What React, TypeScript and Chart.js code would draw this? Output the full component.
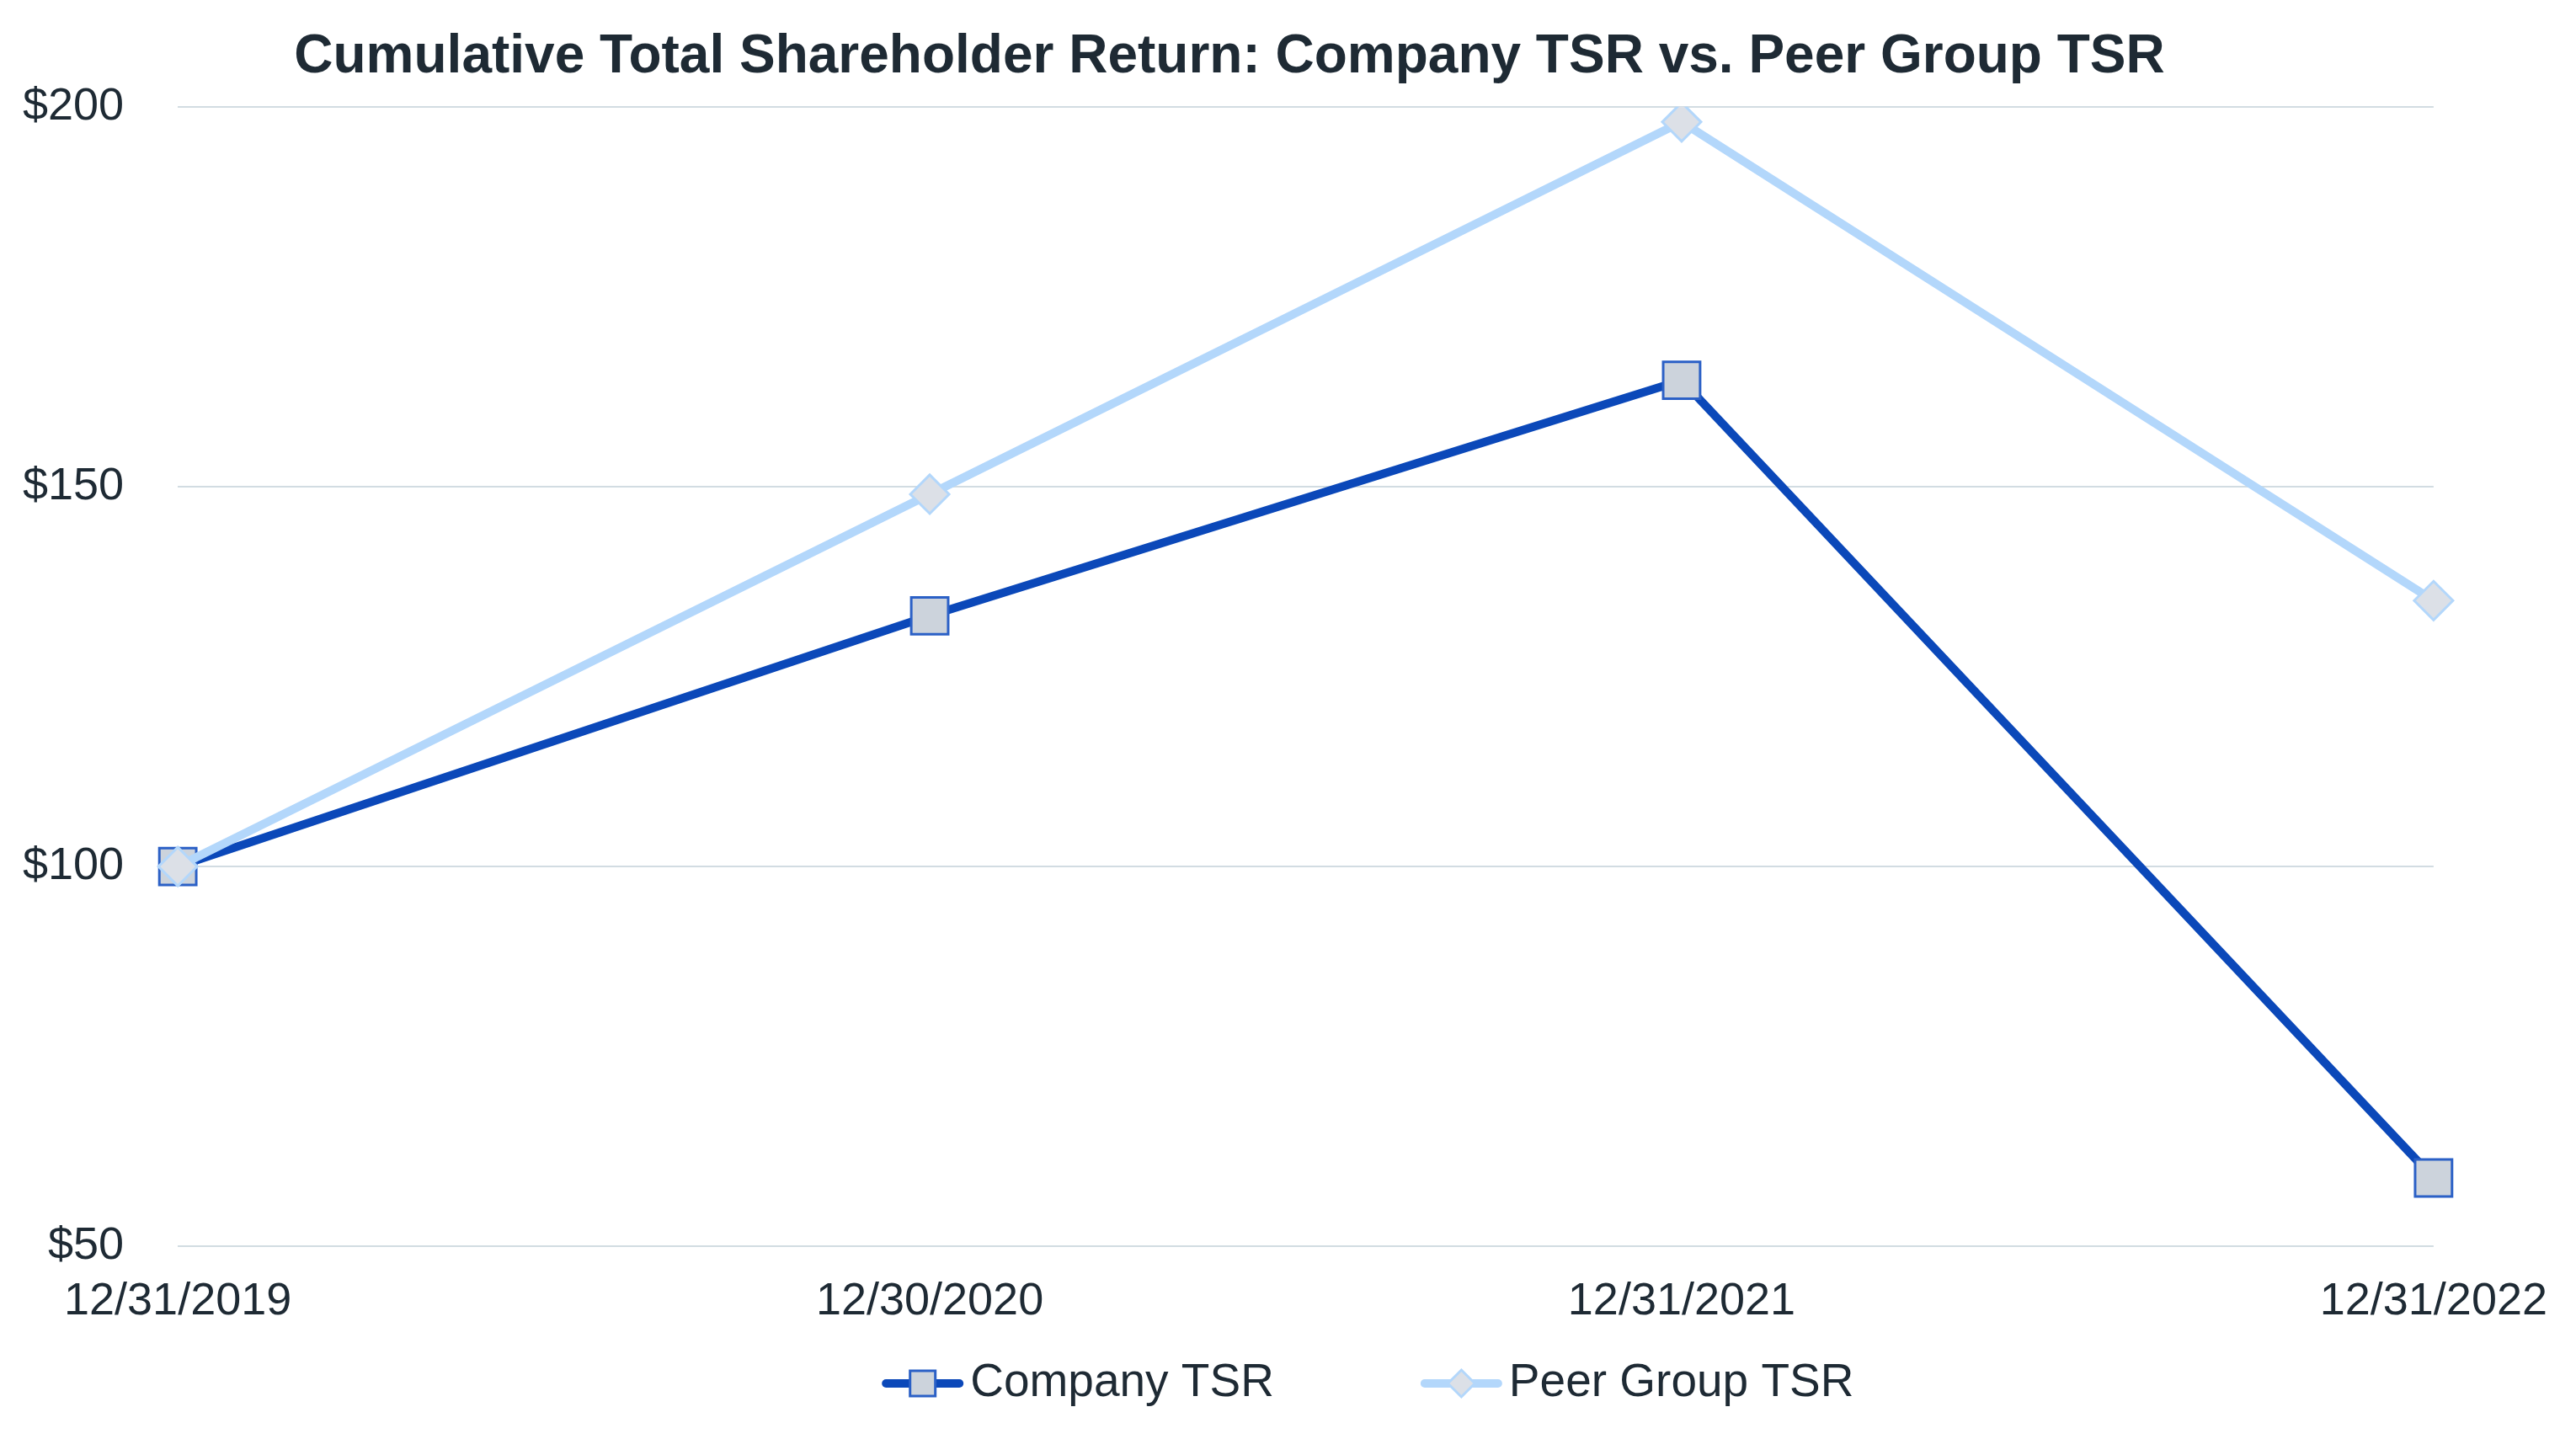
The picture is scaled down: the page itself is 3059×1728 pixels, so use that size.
import React, { useEffect, useRef } from "react";
import { Chart, registerables } from "chart.js";

Chart.register(...registerables);

const categories = ["12/31/2019", "12/30/2020", "12/31/2021", "12/31/2022"];
const companyTSR = [100, 133, 164, 59];
const peerTSR = [100, 149, 198, 135];
const yTicks = [50, 100, 150, 200];
const seriesNames = ["Company TSR", "Peer Group TSR"];
const titleText = "Cumulative Total Shareholder Return: Company TSR vs. Peer Group TSR";

const FONT = "'Liberation Sans', Arial, Helvetica, sans-serif";
const TEXT_COLOR = "#1e2a34";
const COMPANY_LINE = "#0b48b9";
const COMPANY_BORDER = "#2b60c6";
const COMPANY_FILL = "#ccd3dc";
const PEER_LINE = "#b3d7fb";
const PEER_FILL = "#dce0e7";
const GRID = "#d2dce2";

const TICK_SIZE = 54;
const LEGEND_SIZE = 55;
const Y_PAD = 64;
const X_PAD = 34;

const legendPlugin = {
  id: "customLegend",
  afterDraw(chart: any) {
    const ctx = chart.ctx as CanvasRenderingContext2D;
    ctx.save();
    ctx.font = `${LEGEND_SIZE}px ${FONT}`;
    ctx.textBaseline = "middle";
    ctx.textAlign = "left";
    const y = chart.height - 85;
    const symW = 97;
    const w1 = ctx.measureText(seriesNames[0]).width;
    const w2 = ctx.measureText(seriesNames[1]).width;
    const gapText = 8;
    const gapItems = 174;
    const total = symW + gapText + w1 + gapItems + symW + gapText + w2;
    let x = chart.width * 0.531 - total / 2;

    // item 1
    ctx.lineCap = "round";
    ctx.strokeStyle = COMPANY_LINE;
    ctx.lineWidth = 10;
    ctx.beginPath();
    ctx.moveTo(x + 5, y);
    ctx.lineTo(x + symW - 5, y);
    ctx.stroke();
    const cx1 = x + symW / 2;
    ctx.lineCap = "butt";
    ctx.fillStyle = COMPANY_FILL;
    ctx.strokeStyle = COMPANY_BORDER;
    ctx.lineWidth = 3;
    ctx.beginPath();
    ctx.rect(cx1 - 15, y - 15, 30, 30);
    ctx.fill();
    ctx.stroke();
    ctx.fillStyle = TEXT_COLOR;
    ctx.fillText(seriesNames[0], x + symW + gapText, y);
    x += symW + gapText + w1 + gapItems;

    // item 2
    ctx.lineCap = "round";
    ctx.strokeStyle = PEER_LINE;
    ctx.lineWidth = 10;
    ctx.beginPath();
    ctx.moveTo(x + 5, y);
    ctx.lineTo(x + symW - 5, y);
    ctx.stroke();
    const cx2 = x + symW / 2;
    ctx.lineCap = "butt";
    ctx.fillStyle = PEER_FILL;
    ctx.strokeStyle = PEER_LINE;
    ctx.lineWidth = 3;
    ctx.beginPath();
    const r = 16;
    ctx.moveTo(cx2, y - r);
    ctx.lineTo(cx2 + r, y);
    ctx.lineTo(cx2, y + r);
    ctx.lineTo(cx2 - r, y);
    ctx.closePath();
    ctx.fill();
    ctx.stroke();
    ctx.fillStyle = TEXT_COLOR;
    ctx.fillText(seriesNames[1], x + symW + gapText, y);
    ctx.restore();
  },
};

export default function App() {
  const canvasRef = useRef<HTMLCanvasElement | null>(null);

  useEffect(() => {
    if (!canvasRef.current) return;
    const chart = new Chart(canvasRef.current, {
      type: "line",
      data: {
        labels: categories,
        datasets: [
          {
            label: seriesNames[0],
            data: companyTSR,
            borderColor: COMPANY_LINE,
            borderWidth: 10,
            backgroundColor: COMPANY_FILL,
            pointStyle: "rect",
            pointRadius: 31,
            pointBackgroundColor: COMPANY_FILL,
            pointBorderColor: COMPANY_BORDER,
            pointBorderWidth: 3,
            tension: 0,
            order: 1,
          },
          {
            label: seriesNames[1],
            data: peerTSR,
            borderColor: PEER_LINE,
            borderWidth: 10,
            backgroundColor: PEER_FILL,
            pointStyle: "rectRot",
            pointRadius: 23,
            pointBackgroundColor: PEER_FILL,
            pointBorderColor: PEER_LINE,
            pointBorderWidth: 3,
            tension: 0,
            order: 0,
          },
        ],
      },
      options: {
        animation: false,
        responsive: false,
        maintainAspectRatio: false,
        layout: { padding: { left: 27, right: 166, top: 0, bottom: 149 } },
        plugins: {
          legend: { display: false },
          tooltip: { enabled: false },
          title: {
            display: true,
            text: titleText,
            color: TEXT_COLOR,
            font: { family: FONT, size: 64, weight: "bold", lineHeight: 1.2 },
            padding: { top: 30, bottom: 20 },
          },
        },
        scales: {
          x: {
            offset: false,
            grid: { display: false, drawTicks: false },
            border: { display: false },
            afterFit: (axis: any) => {
              axis.height -= X_PAD;
            },
            ticks: {
              color: TEXT_COLOR,
              font: { family: FONT, size: TICK_SIZE, lineHeight: 1.2 },
              padding: X_PAD,
              maxRotation: 0,
              autoSkip: false,
            },
          },
          y: {
            min: yTicks[0],
            max: yTicks[yTicks.length - 1],
            afterBuildTicks: (axis: any) => {
              axis.ticks = yTicks.map((v) => ({ value: v }));
            },
            afterFit: (axis: any) => {
              axis.width -= Y_PAD;
            },
            grid: { color: GRID, lineWidth: 2, drawTicks: false },
            border: { display: false },
            ticks: {
              color: TEXT_COLOR,
              font: { family: FONT, size: TICK_SIZE, lineHeight: 1.2 },
              padding: Y_PAD,
              callback: (v: any) => "$" + v,
            },
          },
        },
      },
      plugins: [legendPlugin],
    } as any);
    return () => chart.destroy();
  }, []);

  return (
    <div style={{ position: "fixed", left: 0, top: 0, width: 3059, height: 1728, background: "#ffffff" }}>
      <canvas ref={canvasRef} width={3059} height={1728} style={{ width: 3059, height: 1728, display: "block" }} />
    </div>
  );
}
